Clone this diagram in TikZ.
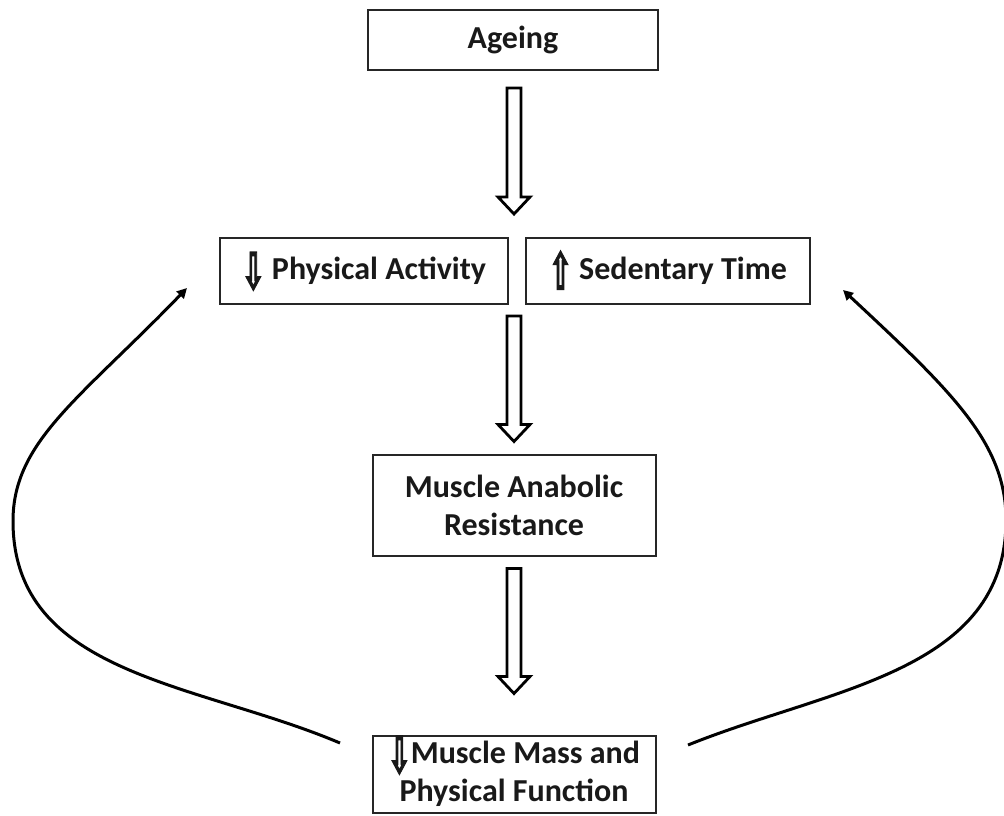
\documentclass[tikz,border=0pt]{standalone}
\usepackage{fontspec}
\setmainfont{Carlito}
\newfontfamily\symfont[FakeBold=3]{DejaVu Sans}
\usetikzlibrary{arrows.meta, calc}

\newcommand{\arrowdn}{\smash{\raisebox{-0.3em}{\scalebox{0.85}[1.6]{\symfont ⇩}}}}
\newcommand{\arrowup}{\smash{\raisebox{-0.3em}{\scalebox{0.85}[1.6]{\symfont ⇧}}}}

\begin{document}
\begin{tikzpicture}[
    x=0.5pt, y=0.5pt,
    box/.style={rectangle, draw=black!85, line width=1pt, align=center, inner sep=0pt,
        font=\bfseries\fontsize{16}{19}\selectfont, text=black!90},
    hollow/.style={draw=black, line width=1.4pt, line join=miter},
    loop/.style={-{Triangle[length=5pt, width=5pt]}, line width=1.5pt}
]
\useasboundingbox (0,0) rectangle (1004,-815);

\node[box, minimum width=145pt, minimum height=30pt] (ageing) at (513,-40) {Ageing};
\node[box, minimum width=144pt, minimum height=33pt] (pa) at (364,-271) {\arrowdn\ Physical Activity};
\node[box, minimum width=142pt, minimum height=33pt] (st) at (668,-271) {\arrowup\ Sedentary Time};
\node[box, minimum width=141.5pt, minimum height=50.5pt] (mar) at (514,-505) {Muscle Anabolic\\Resistance};
\node[box, minimum width=141.5pt, minimum height=38.5pt] (mm) at (514,-774) {\arrowdn Muscle Mass and\\Physical Function};

% hollow block arrows between the levels
\foreach \a/\b/\g/\h in {ageing/pa/17/23, pa/mar/11/12, mar/mm/12/41} {
    \coordinate (t) at ($(mar |- \a.south)+(0,-\g)$);
    \coordinate (h) at ($(mar |- \b.north)+(0,\h)$);
    \draw[hollow] ($(t)+(-7,0)$) -- ($(h)+(-7,17)$) -- ($(h)+(-16,17)$) -- (h)
        -- ($(h)+(16,17)$) -- ($(h)+(7,17)$) -- ($(t)+(7,0)$) -- cycle;
}

% feedback loops
\coordinate (l0) at (340,-743);
\coordinate (l1) at (13,-521);
\coordinate (l2) at (187,-288);
\coordinate (r0) at (688,-745);
\coordinate (r1) at (1006,-520);
\coordinate (r2) at (843,-290);
\draw[loop] (l0) to[out=157, in=-90] (l1)
    to[out=90, in=226, out looseness=0.7, in looseness=1.35] (l2);
\draw[loop] (r0) to[out=22, in=-90] (r1)
    to[out=90, in=317, out looseness=0.7, in looseness=1.35] (r2);

\end{tikzpicture}
\end{document}
